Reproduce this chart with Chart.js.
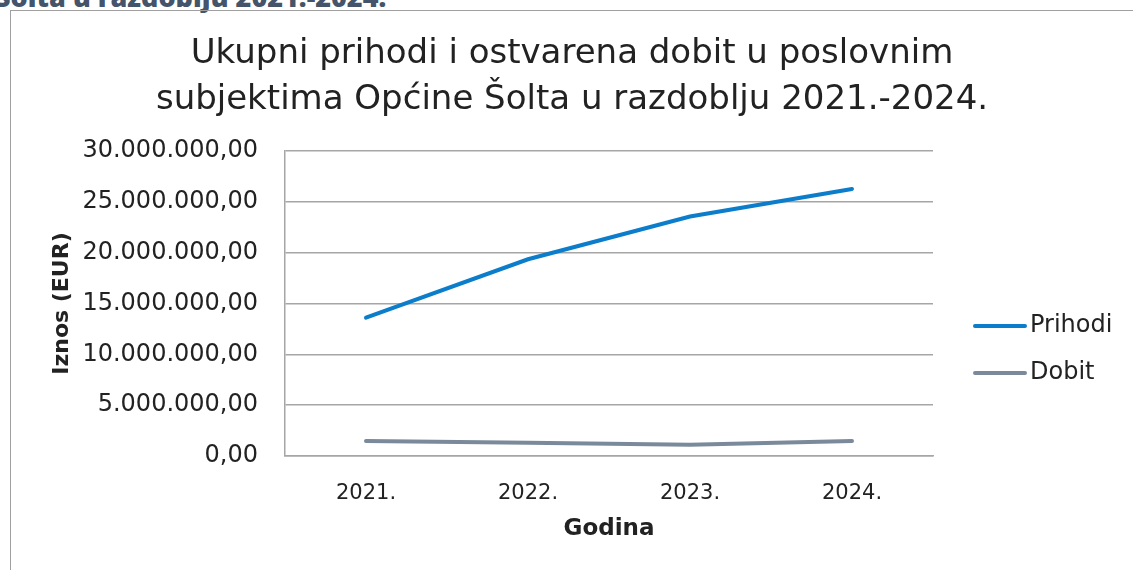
<!DOCTYPE html>
<html>
<head>
<meta charset="utf-8">
<script src="https://cdn.jsdelivr.net/npm/chart.js@4"></script>
<style>
  html, body { margin: 0; padding: 0; background: #fff; overflow: hidden; }
  body { width: 1133px; height: 570px; position: relative; }
  #cut {
    position: absolute; left: -5px; top: -16px;
    font: 800 27px "Open Sans", sans-serif; line-height: 26px;
    color: #44546a; white-space: nowrap;
  }
  #box {
    position: absolute; left: 10px; top: 10px; width: 1140px; height: 580px;
    border: 1px solid #a0a0a0; box-sizing: border-box;
  }
  #wrap { position: absolute; left: 11px; top: 11px; width: 1122px; height: 559px; }
</style>
</head>
<body>
<div id="cut">Šolta u razdoblju 2021.-2024.</div>
<div id="box"></div>
<div id="wrap"><canvas id="lineChart"></canvas></div>
<script>
const years = ["2021.", "2022.", "2023.", "2024."];
const prihodi = [13600000, 19350000, 23550000, 26270000];
const dobit = [1470000, 1300000, 1100000, 1470000];
const yTickLabels = ["0,00", "5.000.000,00", "10.000.000,00", "15.000.000,00",
                     "20.000.000,00", "25.000.000,00", "30.000.000,00"];
const seriesNames = ["Prihodi", "Dobit"];
const seriesColors = ["#0b7dca", "#7a8a9b"];

const FONT = "'DejaVu Sans', sans-serif";
const TEXT = "#222222";
const GRID = "#a6a6a6";

// legend drawn at the right side, like the original
const sideLegend = {
    id: "sideLegend",
    afterDraw(chart) {
        const ctx = chart.ctx;
        const x0 = 964, rows = [315, 362];
        ctx.save();
        chart.data.datasets.forEach((ds, i) => {
            const y = rows[i];
            ctx.strokeStyle = ds.borderColor;
            ctx.lineWidth = 4;
            ctx.lineCap = "round";
            ctx.beginPath();
            ctx.moveTo(x0, y);
            ctx.lineTo(x0 + 50, y);
            ctx.stroke();
            ctx.fillStyle = TEXT;
            ctx.font = "24px " + FONT;
            ctx.textBaseline = "middle";
            ctx.fillText(ds.label, x0 + 55, y);
        });
        ctx.restore();
    }
};

document.addEventListener("DOMContentLoaded", () => {
    const ctx = document.getElementById("lineChart").getContext("2d");
    new Chart(ctx, {
        type: "line",
        data: {
            labels: years,
            datasets: [prihodi, dobit].map((vals, i) => ({
                label: seriesNames[i],
                data: vals,
                borderColor: seriesColors[i],
                backgroundColor: seriesColors[i],
                borderWidth: 4,
                borderCapStyle: "round",
                pointRadius: 0,
                tension: 0
            }))
        },
        options: {
            responsive: true,
            maintainAspectRatio: false,
            animation: false,
            layout: { padding: 0 },
            plugins: {
                legend: { display: false },
                tooltip: { enabled: false },
                title: {
                    display: true,
                    text: ["Ukupni prihodi i ostvarena dobit u poslovnim",
                           "subjektima Općine Šolta u razdoblju 2021.-2024."],
                    color: TEXT,
                    font: { family: FONT, size: 34, weight: "normal", lineHeight: 1.353 },
                    padding: { top: 20, bottom: 28 }
                }
            },
            scales: {
                x: {
                    offset: true,
                    grid: { display: false, drawTicks: false },
                    border: { display: true, color: GRID, width: 1.5 },
                    ticks: { color: TEXT, font: { family: FONT, size: 21 }, padding: 25 },
                    title: {
                        display: true, text: "Godina", color: TEXT,
                        font: { family: FONT, size: 23, weight: "bold" },
                        padding: { top: 0, bottom: 27 }
                    },
                    afterFit: s => { s.height = 114; }
                },
                y: {
                    min: 0, max: 30000000,
                    grid: { color: GRID, lineWidth: 1.5, drawTicks: false },
                    border: { display: true, color: GRID, width: 1.5 },
                    ticks: {
                        stepSize: 5000000,
                        color: TEXT,
                        font: { family: FONT, size: 24 },
                        padding: 27,
                        callback: (v, i) => yTickLabels[i]
                    },
                    title: {
                        display: true, text: "Iznos (EUR)", color: TEXT,
                        font: { family: FONT, size: 22, weight: "bold" },
                        padding: { top: 38, bottom: 0 }
                    },
                    afterFit: s => { s.width = 274; }
                },
                // empty box on the right keeps room for the legend
                side: {
                    position: "right",
                    grid: { display: false },
                    border: { display: false },
                    ticks: { display: false },
                    afterFit: s => { s.width = 200; }
                }
            }
        },
        plugins: [sideLegend]
    });
});
</script>
</body>
</html>
